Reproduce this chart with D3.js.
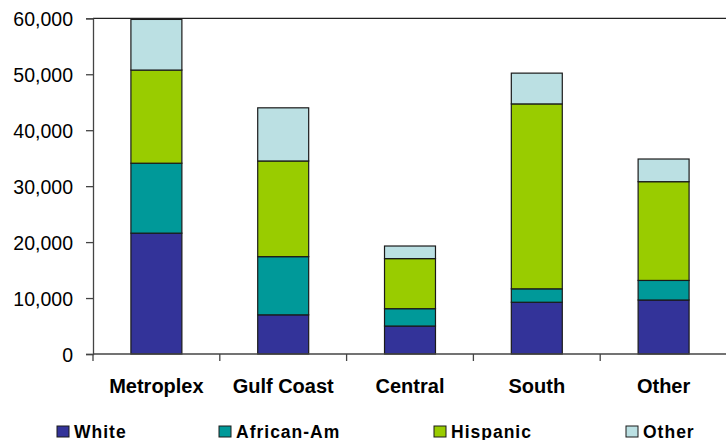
<!DOCTYPE html>
<html>
<head>
<meta charset="utf-8">
<script src="https://cdn.jsdelivr.net/npm/d3@7"></script>
<style>
  html, body { margin: 0; padding: 0; background: #fff; }
  svg { display: block; }
  text { font-family: "Liberation Sans", Arial, sans-serif; fill: #000; }
</style>
</head>
<body>
<svg id="chart" width="726" height="440"></svg>
<script>
// Regions along the x axis
const regions = ["Metroplex", "Gulf Coast", "Central", "South", "Other"];

// Stacked series, bottom to top
const seriesNames = ["White", "African-Am", "Hispanic", "Other"];
const white      = [21600,  7000, 5000,  9250,  9650];
const africanAm  = [12500, 10400, 3100,  2400,  3500];
const hispanic   = [16650, 17100, 8950, 33050, 17650];
const other      = [ 9050,  9500, 2250,  5500,  4050];

const seriesColors = ["#333399", "#009999", "#99CC00", "#BBE0E3"];

// Y axis ticks
const yTicks = [0, 10000, 20000, 30000, 40000, 50000, 60000];

const rows = regions.map((r, i) => ({
  region: r,
  "White": white[i],
  "African-Am": africanAm[i],
  "Hispanic": hispanic[i],
  "Other": other[i]
}));

const svg = d3.select("#chart");

const plotLeft = 93, plotRight = 727, plotTop = 18.3, plotBottom = 354;

const x = d3.scaleBand().domain(regions).range([plotLeft, plotRight]).padding(0);
const y = d3.scaleLinear().domain([0, 60000]).range([plotBottom, plotTop]);
const color = d3.scaleOrdinal().domain(seriesNames).range(seriesColors);

const stacked = d3.stack().keys(seriesNames)(rows);
const barW = x.bandwidth() * 0.402;

// Bars
svg.append("g")
  .selectAll("g")
  .data(stacked)
  .join("g")
    .attr("fill", d => color(d.key))
  .selectAll("rect")
  .data(d => d)
  .join("rect")
    .attr("x", d => x(d.data.region) + (x.bandwidth() - barW) / 2)
    .attr("y", d => y(d[1]))
    .attr("width", barW)
    .attr("height", d => y(d[0]) - y(d[1]))
    .attr("stroke", "#1a1a1a")
    .attr("stroke-width", 1.2);

// Plot frame top line
svg.append("line")
  .attr("x1", plotLeft).attr("x2", 726)
  .attr("y1", y(60000)).attr("y2", y(60000))
  .attr("stroke", "#222").attr("stroke-width", 1.3);

// Y axis
const yAxis = svg.append("g")
  .attr("transform", `translate(${plotLeft},0)`)
  .call(d3.axisLeft(y).tickValues(yTicks).tickSize(7).tickPadding(13)
    .tickFormat(d3.format(",")));
yAxis.select(".domain").attr("stroke", "#444").attr("stroke-width", 1.3);
yAxis.selectAll(".tick line").attr("stroke", "#444").attr("stroke-width", 1.3);
yAxis.selectAll("text")
  .attr("font-size", 19.5)
  .attr("font-family", "Liberation Sans, Arial, sans-serif")
  .attr("fill", "#000")
  .attr("dy", "0.36em");

// X axis: ticks between categories, labels centred on each band
const xAxisG = svg.append("g");
xAxisG.append("line")
  .attr("x1", plotLeft).attr("x2", 726)
  .attr("y1", plotBottom).attr("y2", plotBottom)
  .attr("stroke", "#444").attr("stroke-width", 1.3);
const boundaries = regions.map(r => x(r)).concat([x(regions[regions.length - 1]) + x.bandwidth()]);
xAxisG.selectAll("line.sep")
  .data(boundaries)
  .join("line")
    .attr("class", "sep")
    .attr("x1", d => d).attr("x2", d => d)
    .attr("y1", plotBottom).attr("y2", plotBottom + 7)
    .attr("stroke", "#444").attr("stroke-width", 1.3);
xAxisG.selectAll("text")
  .data(regions)
  .join("text")
    .attr("x", d => x(d) + x.bandwidth() / 2)
    .attr("y", 392.5)
    .attr("text-anchor", "middle")
    .attr("font-size", 20)
    .attr("font-weight", "bold")
    .text(d => d);

// Legend
const legendX = [57, 219, 434, 626];
const legend = svg.append("g")
  .selectAll("g")
  .data(seriesNames)
  .join("g")
    .attr("transform", (d, i) => `translate(${legendX[i]},426)`);
legend.append("rect")
  .attr("width", 12).attr("height", 11)
  .attr("fill", d => color(d))
  .attr("stroke", "#1a1a1a").attr("stroke-width", 1);
legend.append("text")
  .attr("x", 17)
  .attr("y", 11.8)
  .attr("font-size", 17.5)
  .attr("font-weight", "bold")
  .attr("letter-spacing", 1.0)
  .text(d => d);
</script>
</body>
</html>
